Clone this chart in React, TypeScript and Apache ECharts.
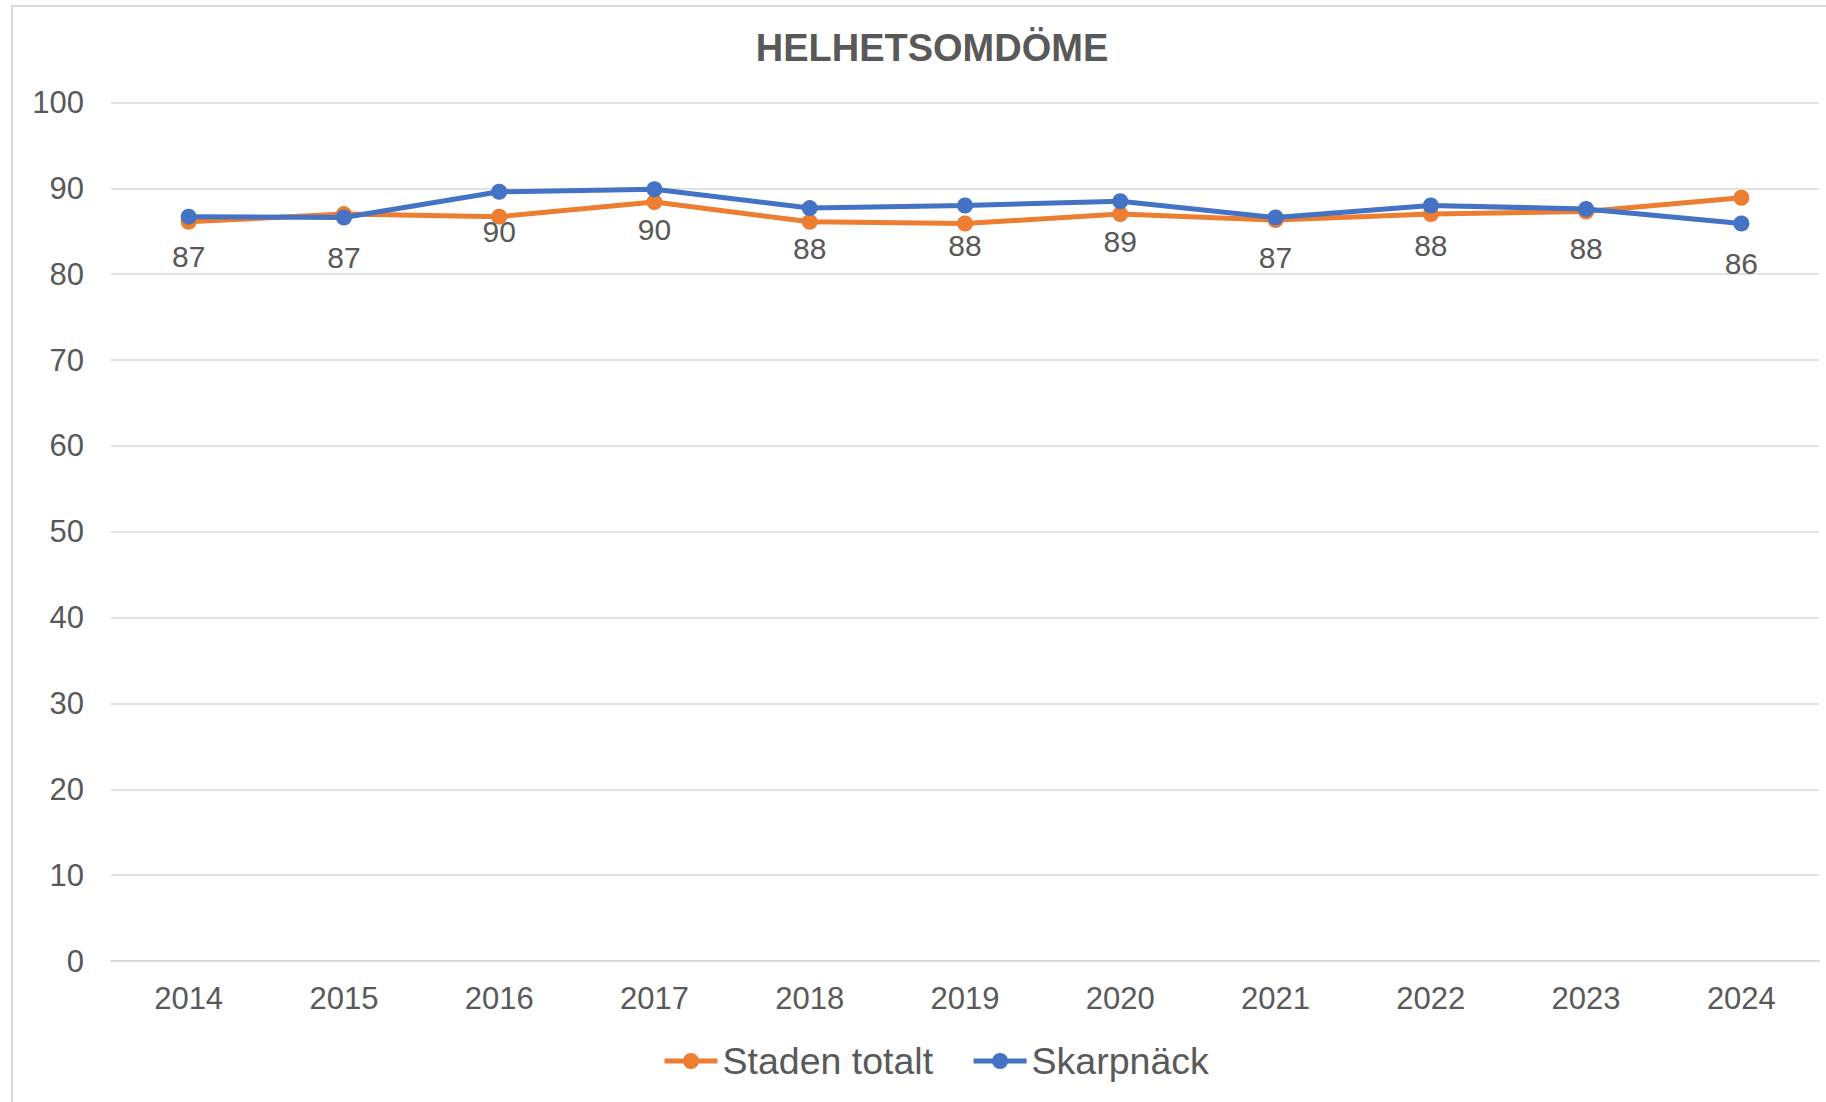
import React, { useEffect, useRef } from "react";
import * as echarts from "echarts";

const years = ["2014", "2015", "2016", "2017", "2018", "2019", "2020", "2021", "2022", "2023", "2024"];
const stadenTotalt = [86.1, 87.0, 86.7, 88.4, 86.1, 85.9, 87.0, 86.3, 87.0, 87.3, 88.9];
const skarpnack = [86.7, 86.6, 89.6, 89.9, 87.7, 88.0, 88.5, 86.6, 88.0, 87.6, 85.9];
const yTicks = { min: 0, max: 100, interval: 10 };

const FONT = "'Liberation Sans', Arial, sans-serif";
const TEXT = "#595959";
const ORANGE = "#ED7D31";
const BLUE = "#4472C4";

export default function App() {
  const ref = useRef<HTMLDivElement>(null);
  useEffect(() => {
    const chart = echarts.init(ref.current!, null, { renderer: "svg" });
    chart.setOption({
      animation: false,
      backgroundColor: "#ffffff",
      textStyle: { fontFamily: FONT },
      graphic: [
        {
          type: "rect",
          shape: { x: 12, y: 6, width: 1830, height: 1110 },
          style: { fill: "none", stroke: "#D9D9D9", lineWidth: 2 },
          z: -1,
        },
      ],
      title: {
        text: "HELHETSOMDÖME",
        left: 927,
        textAlign: "center",
        top: 24,
        textStyle: { fontFamily: FONT, fontSize: 38, fontWeight: "bold", color: TEXT },
      },
      legend: {
        left: 657,
        top: 1037,
        itemWidth: 53,
        itemHeight: 20,
        itemGap: 38,
        lineStyle: { width: 5 },
        textStyle: { fontFamily: FONT, fontSize: 37.5, color: TEXT },
        data: ["Staden totalt", "Skarpnäck"],
      },
      grid: { left: 111, right: 7, top: 102.5, bottom: 141, containLabel: false },
      xAxis: {
        type: "category",
        data: years,
        boundaryGap: true,
        axisLine: { lineStyle: { color: "#D9D9D9", width: 2 } },
        axisTick: { show: false },
        axisLabel: { margin: 22, fontSize: 31, color: TEXT, fontFamily: FONT },
      },
      yAxis: {
        type: "value",
        min: yTicks.min,
        max: yTicks.max,
        interval: yTicks.interval,
        axisLine: { show: false },
        axisTick: { show: false },
        axisLabel: { margin: 27, fontSize: 31, color: TEXT, fontFamily: FONT },
        splitLine: { lineStyle: { color: "#D9D9D9", width: 1.5 } },
      },
      series: [
        {
          name: "Staden totalt",
          type: "line",
          data: stadenTotalt,
          symbol: "circle",
          symbolSize: 16,
          itemStyle: { color: ORANGE },
          lineStyle: { color: ORANGE, width: 5 },
          z: 2,
        },
        {
          name: "Skarpnäck",
          type: "line",
          data: skarpnack,
          symbol: "circle",
          symbolSize: 16,
          itemStyle: { color: BLUE },
          lineStyle: { color: BLUE, width: 5 },
          z: 3,
          label: {
            show: true,
            position: "bottom",
            distance: 17,
            fontSize: 30,
            fontFamily: FONT,
            color: TEXT,
            formatter: (p: any) => String(Math.round(p.value)),
          },
        },
      ],
    });
    return () => chart.dispose();
  }, []);
  return (
    <div
      ref={ref}
      style={{ position: "absolute", left: 0, top: 0, width: 1826, height: 1102 }}
    />
  );
}
